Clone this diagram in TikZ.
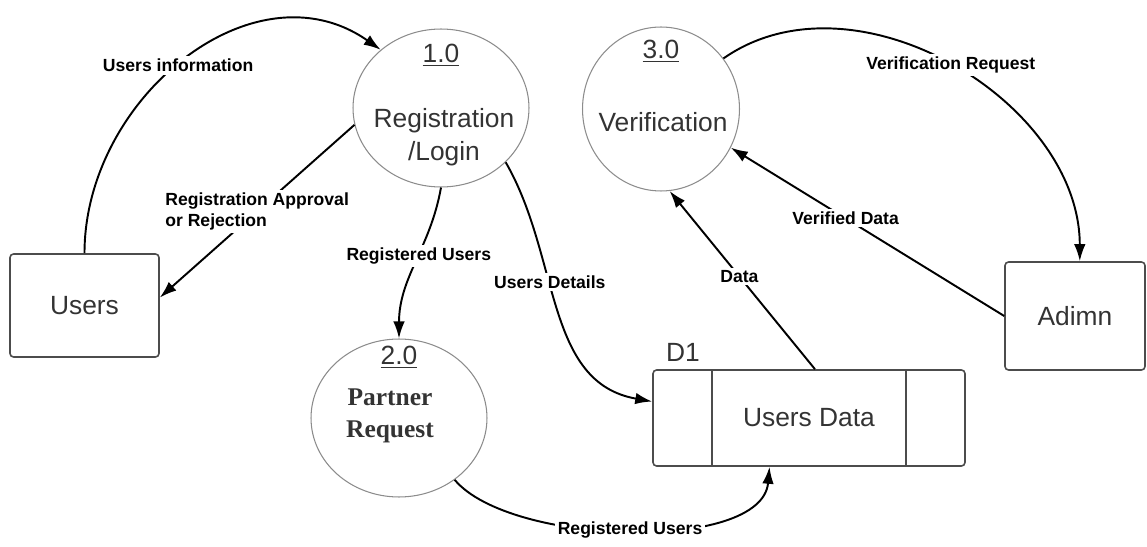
\documentclass[tikz,border=0pt]{standalone}
\usepackage{fontspec}
\setmainfont{Liberation Sans}
\newfontfamily\timesfont{Liberation Serif}
\usetikzlibrary{arrows.meta,shapes.geometric}
\tikzset{
	process/.style={ellipse, draw=black!45, line width=0.6pt, inner sep=0pt},
	entity/.style={rectangle, rounded corners=2pt, draw=black!70, line width=0.9pt,
			inner sep=0pt, text=black!80, font=\fontsize{15}{19}\selectfont},
	ptext/.style={text=black!80, font=\fontsize{15}{19}\selectfont, align=center},
	flow/.style={-{Latex[length=3.4mm,width=2.3mm]}, line width=1.1pt},
	flowlbl/.style={fill=white, inner sep=1.5pt, align=left,
			font=\bfseries\fontsize{10}{12}\selectfont}
}

\begin{document}
\begin{tikzpicture}[x=0.02cm, y=-0.02cm]
        \useasboundingbox (0,0) rectangle (1147,547);
        % processes
        \node[process, minimum width=3.52cm, minimum height=3.16cm] (p1) at (441,108) {};
        \node[ptext] (p1num) at (441,55) {\underline{1.0}};
        \node[ptext] (p1txt) at (444,137) {Registration\\/Login};
        \node[process, minimum width=3.52cm, minimum height=3.16cm] (p2) at (399,418) {};
        \node[ptext] (p2num) at (399,357) {\underline{2.0}};
        \node[ptext, font=\timesfont\bfseries\fontsize{14.5}{18}\selectfont] (p2txt) at (390,416) {Partner\\Request};
        \node[process, minimum width=3.14cm, minimum height=3.28cm] (p3) at (661,109) {};
        \node[ptext] (p3num) at (661,51) {\underline{3.0}};
        \node[ptext] (p3txt) at (663,122) {Verification};
        % entities and store
        \node[entity, minimum width=2.98cm, minimum height=2.06cm] (users) at (84.5,305.5) {Users};
        \node[entity, minimum width=2.8cm, minimum height=2.16cm] (adimn) at (1075,316) {Adimn};
        \node[entity, minimum width=6.24cm, minimum height=1.92cm] (store) at (809,418) {Users Data};
        \draw[black!70, line width=0.9pt] ([xshift=1.2cm]store.north west) -- ([xshift=1.2cm]store.south west);
        \draw[black!70, line width=0.9pt] ([xshift=-1.2cm]store.north east) -- ([xshift=-1.2cm]store.south east);
        \node[ptext] (d1) at (683,352) {D1};
        % flows
        \draw[flow] (users.north) to[out=90, in=145, looseness=1.1] node[flowlbl, pos=.48] {Users information} (p1.136);
        \draw[flow] (p1.191) -- node[flowlbl] {Registration Approval\\or Rejection} (users.6);
        \draw[flow] (p1.south) to[out=-100, in=90] node[flowlbl, pos=.45] {Registered Users} (p2.north);
        \draw[flow] (p1.-40) to[out=-60, in=170] node[flowlbl, pos=.4] {Users Details} (store.174);
        \draw[flow] (p2.-48) to[out=-50, in=-95, looseness=.7] node[flowlbl] {Registered Users} (store.-129);
        \draw[flow] (store.83) -- node[flowlbl, pos=.52] {Data} (p3.-84);
        \draw[flow] (adimn.west) -- node[flowlbl, pos=.58] {Verified Data} (p3.-29);
        \draw[flow] (p3.39) to[out=35, in=90] node[flowlbl] {Verification Request} (adimn.85);
\end{tikzpicture}
\end{document}
